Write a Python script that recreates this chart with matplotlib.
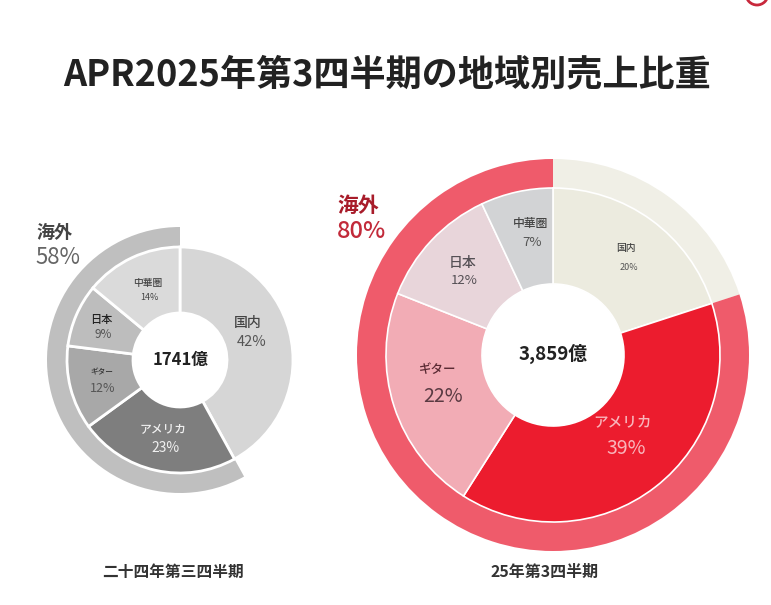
import matplotlib
matplotlib.use("Agg")
import matplotlib.pyplot as plt
from matplotlib.patches import Circle

plt.rcParams['font.family'] = ['Noto Sans CJK JP', 'DejaVu Sans']

regions = ["国内", "アメリカ", "ギター", "日本", "中華圏"]
shares_24 = [42, 23, 12, 9, 14]
shares_25 = [20, 39, 22, 12, 7]
total_24 = "1741億"
total_25 = "3,859億"
caption_24 = "二十四年第三四半期"
caption_25 = "25年第3四半期"
title = "APR2025年第3四半期の地域別売上比重"

colors_24 = ["#d6d6d6", "#7e7e7e", "#a8a8a8", "#bdbdbd", "#dadada"]
colors_25 = ["#ecebdf", "#ec1c2e", "#f2acb5", "#e8d5da", "#d2d3d5"]


def py(y):
    # reference is measured from the top
    return 605 - y


fig = plt.figure(figsize=(7.71, 6.05), dpi=100)
ax = fig.add_axes([0, 0, 1, 1])


def donut(cx, cy, shares, colors, hole, r_in, ring_in, ring_out, ring_color, home_color, edge):
    overseas = sum(shares[1:])
    ax.pie([shares[0], overseas], colors=[home_color, ring_color], startangle=90,
           counterclock=False, center=(cx, py(cy)), radius=ring_out, frame=False,
           wedgeprops=dict(width=ring_out - ring_in, linewidth=0))
    ax.pie(shares, colors=colors, startangle=90, counterclock=False,
           center=(cx, py(cy)), radius=r_in, frame=False,
           wedgeprops=dict(width=r_in - hole, edgecolor="white", linewidth=edge))
    return overseas


over_24 = donut(180, 360, shares_24, colors_24, 47, 113, 113, 133, "#bfbfbf", "white", 2)
over_25 = donut(553, 355, shares_25, colors_25, 71, 167, 167, 196, "#ef5b6b", "#f0efe6", 1.2)

ax.set_xlim(0, 771)
ax.set_ylim(0, 605)
ax.set_aspect("equal")
ax.axis("off")


def label(x, y, s, size, color="#333333", weight="normal"):
    ax.text(x, py(y), s, fontsize=size, color=color, fontweight=weight, ha="center", va="center")


# left chart labels
name_xy_24 = [(248, 323), (163, 430), (102, 372), (101, 320), (148, 283)]
pct_xy_24 = [(252, 342), (166, 448), (103, 388), (103, 335), (149, 297)]
name_size_24 = [10, 8.5, 5.5, 8, 7]
pct_size_24 = [10.5, 10, 9, 8.5, 6.5]
text_24 = ["#444444", "#f0f0f0", "#333333", "#222222", "#444444"]
pct_text_24 = ["#555555", "#f0f0f0", "#555555", "#555555", "#444444"]
for i in range(5):
    label(*name_xy_24[i], regions[i], name_size_24[i], text_24[i], "medium")
    label(*pct_xy_24[i], f"{shares_24[i]}%", pct_size_24[i], pct_text_24[i])

# right chart labels
name_xy_25 = [(626, 248), (623, 422), (438, 369), (463, 263), (531, 224)]
pct_xy_25 = [(629, 267), (626, 448), (443, 397), (464, 281), (532, 242)]
name_size_25 = [7, 10.5, 9, 10, 8.5]
pct_size_25 = [6.5, 14, 14, 9.5, 9.5]
text_25 = ["#444444", "#f9b5bb", "#5a2a33", "#555055", "#444444"]
pct_text_25 = ["#555555", "#f9b5bb", "#5a3a42", "#555055", "#555555"]
for i in range(5):
    label(*name_xy_25[i], regions[i], name_size_25[i], text_25[i], "medium")
    label(*pct_xy_25[i], f"{shares_25[i]}%", pct_size_25[i], pct_text_25[i])

label(181, 360, total_24, 12, "#222222", "bold")
label(553, 354, total_25, 13.5, "#222222", "bold")

label(54, 232, "海外", 13, "#444444", "bold")
label(58, 257, f"{over_24}%", 16, "#666666")
label(358, 205, "海外", 15, "#a81c2a", "bold")
label(362, 232, f"{over_25}%", 17, "#c22a3a", "medium")

label(173, 572, caption_24, 11.3, "#333333", "bold")
label(545, 572, caption_25, 11.5, "#333333", "bold")
label(387, 75, title, 26, "#222222", "bold")

# bit of a logo cut off at the top edge
ax.add_patch(Circle((757, py(-6)), 11, facecolor="white", edgecolor="#c8283c", linewidth=2, clip_on=True))

fig.savefig("out.png", dpi=100, facecolor="white")
